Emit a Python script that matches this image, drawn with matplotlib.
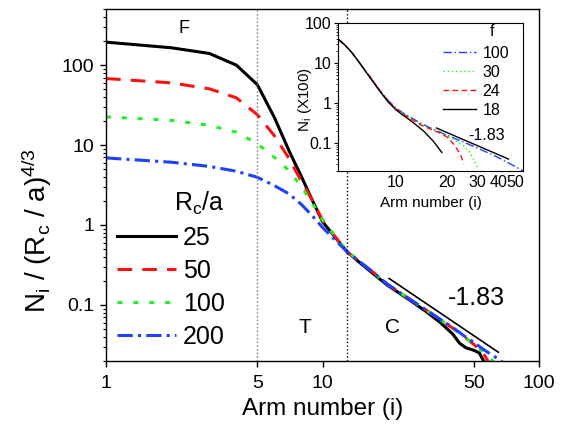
import matplotlib
matplotlib.use("Agg")
import matplotlib.pyplot as plt

plt.rcParams["font.family"] = ["Liberation Sans", "DejaVu Sans"]
plt.rcParams["mathtext.fontset"] = "custom"
plt.rcParams["mathtext.rm"] = "Liberation Sans"
plt.rcParams["mathtext.it"] = "Liberation Sans"
plt.rcParams["mathtext.default"] = "regular"

# main panel: N_i / (Rc/a)^(4/3) vs arm number, one curve per Rc/a
rc_labels = ["25", "50", "100", "200"]

x_25 = [1, 2, 3, 4, 5, 6, 7, 8, 9, 10, 11, 12, 13, 15, 17, 20, 25, 30, 35, 40, 43, 46, 50, 53, 56, 58]
y_25 = [194, 165, 140, 100, 57, 22, 8.5, 4.0, 2.0, 1.1, 0.80, 0.60, 0.46, 0.33, 0.25, 0.175,
        0.117, 0.083, 0.060, 0.043, 0.033, 0.029, 0.027, 0.025, 0.019, 0.015]

x_50 = [1, 2, 3, 4, 5, 6, 7, 8, 9, 10, 11, 12, 13, 15, 17, 20, 25, 30, 35, 40, 45, 50, 55, 60]
y_50 = [68, 60, 50.6, 39, 24, 13, 6.8, 3.5, 2.0, 1.15, 0.82, 0.60, 0.46, 0.34, 0.26, 0.18,
        0.12, 0.087, 0.065, 0.051, 0.040, 0.032, 0.0255, 0.017]

x_100 = [1, 2, 3, 4, 5, 6, 7, 8, 9, 10, 11, 12, 13, 15, 17, 20, 25, 30, 35, 40, 45, 50, 55, 60, 64]
y_100 = [22.5, 20.4, 17.6, 14.5, 10.4, 7.0, 4.8, 3.0, 1.85, 1.15, 0.83, 0.61, 0.47, 0.34, 0.26, 0.18,
         0.12, 0.087, 0.065, 0.051, 0.040, 0.032, 0.026, 0.021, 0.017]

x_200 = [1, 2, 3, 4, 5, 6, 7, 8, 9, 10, 11, 12, 13, 15, 17, 20, 25, 30, 35, 40, 45, 50, 55, 60, 65, 68]
y_200 = [6.9, 6.1, 5.4, 4.7, 3.95, 3.1, 2.45, 1.8, 1.29, 0.93, 0.72, 0.57, 0.46, 0.34, 0.26, 0.18,
         0.12, 0.087, 0.066, 0.052, 0.041, 0.034, 0.028, 0.024, 0.021, 0.019]

slope_x = [20.3, 64.9]
slope_val = -1.83
slope_y0 = 0.214

# inset: N_i (x100) vs arm number, one curve per functionality f
f_labels = ["100", "30", "24", "18"]

xi_100 = [4.6, 5, 5.5, 6, 7, 8, 9, 10, 11, 12, 13, 14, 16, 20, 25, 30, 35, 40, 45, 50, 56]
yi_100 = [38, 28, 18, 11, 4.6, 2.1, 1.15, 0.75, 0.56, 0.45, 0.37, 0.31, 0.235, 0.155, 0.105,
          0.075, 0.056, 0.043, 0.033, 0.026, 0.02]

xi_30 = [4.6, 5, 5.5, 6, 7, 8, 9, 10, 11, 12, 13, 14, 16, 20, 22, 25, 27, 29, 30.5]
yi_30 = [38, 28, 18, 11, 4.6, 2.1, 1.12, 0.73, 0.54, 0.43, 0.35, 0.29, 0.225, 0.15, 0.12,
         0.085, 0.06, 0.035, 0.022]

xi_24 = [4.6, 5, 5.5, 6, 7, 8, 9, 10, 11, 12, 13, 14, 16, 18, 20, 22, 24, 25]
yi_24 = [38, 28, 18, 11, 4.6, 2.1, 1.1, 0.72, 0.53, 0.42, 0.34, 0.28, 0.22, 0.18, 0.14,
         0.09, 0.05, 0.03]

xi_18 = [4.6, 5, 5.5, 6, 7, 8, 9, 10, 11, 12, 13, 14.5, 16.6, 18.6]
yi_18 = [38, 28, 18, 11, 4.4, 2.0, 1.05, 0.67, 0.49, 0.38, 0.29, 0.20, 0.11, 0.058]

inset_slope_x = [17.3, 45.8]
inset_slope_y0 = 0.236

colors = ["black", "#ff1010", "#22ee22", "#1e40ff"]
styles = ["-", (0, (4.8, 3.3)), (0, (1.6, 3.6)), (0, (5, 1.7, 1, 1.7))]
inset_colors = ["#1e40ff", "#22ee22", "#ff1010", "black"]
inset_styles = [(0, (6, 2, 1, 2)), (0, (1, 2)), (0, (4, 2.5)), "-"]


def main():
    fig = plt.figure(figsize=(5.7, 4.26), dpi=100)
    ax = fig.add_axes([0.186, 0.1533, 0.7596, 0.8249])

    series = [(x_25, y_25), (x_50, y_50), (x_100, y_100), (x_200, y_200)]
    handles = []
    for (xs, ys), c, ls, lab in zip(series, colors, styles, rc_labels):
        h, = ax.plot(xs, ys, color=c, linestyle=ls, lw=2.2, label=lab)
        handles.append(h)

    sy = [slope_y0 * (v / slope_x[0]) ** slope_val for v in slope_x]
    ax.plot(slope_x, sy, color="black", lw=1.2)

    ax.axvline(5, color="#777777", linestyle=":", lw=1)
    ax.axvline(13, color="black", linestyle=":", lw=1)

    ax.set_xscale("log")
    ax.set_yscale("log")
    ax.set_xlim(1, 100)
    ax.set_ylim(0.02, 500)
    ax.set_xticks([1, 5, 10, 50, 100])
    ax.set_xticklabels(["1", "5", "10", "50", "100"])
    ax.xaxis.set_minor_locator(matplotlib.ticker.NullLocator())
    ax.set_yticks([0.1, 1, 10, 100])
    ax.set_yticklabels(["0.1", "1", "10", "100"])
    ax.tick_params(which="major", direction="out", length=4.3, width=1, labelsize=14, pad=4)
    ax.tick_params(axis="x", which="major", pad=6)
    ax.tick_params(which="minor", direction="out", length=2.2, width=0.8)
    for s in ax.spines.values():
        s.set_linewidth(1)

    ax.set_xlabel("Arm number (i)", fontsize=17.5, labelpad=4)
    fig.text(37 / 570, 1 - 231 / 426, "N$_i$ / (R$_c$ / a)$^{4/3}$", fontsize=20,
             rotation=90, ha="center", va="center")

    ax.text(2.29, 288, "F", fontsize=13, ha="center", va="center")
    ax.text(8.3, 0.0516, "T", fontsize=15, ha="center", va="center")
    ax.text(21.1, 0.0516, "C", fontsize=15, ha="center", va="center")
    ax.text(51.5, 0.1217, "-1.83", fontsize=18, ha="center", va="center")

    ax.legend(handles=handles, loc="upper left", bbox_to_anchor=(117 / 570, 1 - 190 / 426),
              bbox_transform=fig.transFigure, frameon=False, fontsize=18,
              title="R$_c$/a", title_fontsize=18, alignment="right",
              handlelength=2.36, handletextpad=0.28, labelspacing=0.36,
              borderpad=0, borderaxespad=0)

    # inset
    ax2 = fig.add_axes([0.5935, 0.5986, 0.3246, 0.3481])
    ax2.set_facecolor("white")
    iseries = [(xi_100, yi_100), (xi_30, yi_30), (xi_24, yi_24), (xi_18, yi_18)]
    ihandles = []
    for (xs, ys), c, ls, lab in zip(iseries, inset_colors, inset_styles, f_labels):
        h, = ax2.plot(xs, ys, color=c, linestyle=ls, lw=1, label=lab)
        ihandles.append(h)
    isy = [inset_slope_y0 * (v / inset_slope_x[0]) ** slope_val for v in inset_slope_x]
    ax2.plot(inset_slope_x, isy, color="black", lw=1)
    ax2.text(34.2, 0.152, "-1.83", fontsize=11.5, ha="center", va="center")

    ax2.set_xscale("log")
    ax2.set_yscale("log")
    ax2.set_xlim(4.58, 56)
    ax2.set_ylim(0.02, 100)
    ax2.set_xticks([10, 20, 30, 40, 50])
    ax2.set_xticklabels(["10", "20", "30", "40", "50"])
    ax2.xaxis.set_minor_locator(matplotlib.ticker.NullLocator())
    ax2.set_yticks([0.1, 1, 10, 100])
    ax2.set_yticklabels(["0.1", "1", "10", "100"])
    ax2.tick_params(axis="x", which="major", length=0, labelsize=11.5, pad=3)
    ax2.tick_params(axis="y", which="major", direction="out", length=3, width=0.8, labelsize=11.5, pad=2)
    ax2.tick_params(axis="y", which="minor", direction="out", length=1.6, width=0.6)
    ax2.set_xlabel("Arm number (i)", fontsize=11, labelpad=4)
    fig.text(305 / 570, 1 - 99.5 / 426, "N$_i$ (X100)", fontsize=11,
             rotation=90, ha="center", va="center")

    ax2.legend(handles=ihandles, loc="upper left", bbox_to_anchor=(443 / 570, 1 - 46 / 426),
               bbox_transform=fig.transFigure, frameon=False, fontsize=11.5,
               handlelength=2.07, handletextpad=0.4, labelspacing=0.25,
               borderpad=0, borderaxespad=0)
    fig.text(491.7 / 570, 1 - 31.7 / 426, "f", fontsize=11.5, ha="center", va="center")

    fig.savefig("out.png", dpi=100)


if __name__ == "__main__":
    main()
